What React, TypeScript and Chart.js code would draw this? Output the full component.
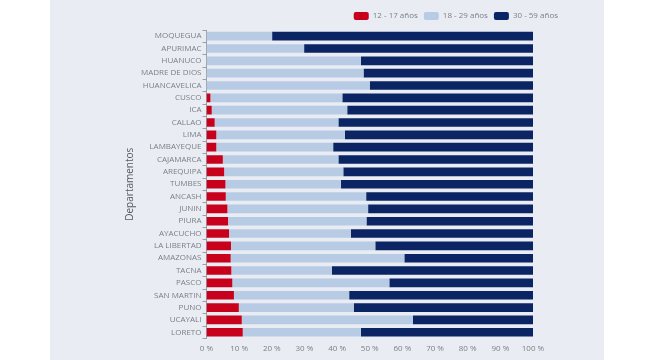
import React, { useEffect, useRef } from "react";
import { Chart, registerables } from "chart.js";

Chart.register(...registerables);

const departamentos = [
  "MOQUEGUA", "APURIMAC", "HUANUCO", "MADRE DE DIOS", "HUANCAVELICA", "CUSCO", "ICA",
  "CALLAO", "LIMA", "LAMBAYEQUE", "CAJAMARCA", "AREQUIPA", "TUMBES", "ANCASH", "JUNIN",
  "PIURA", "AYACUCHO", "LA LIBERTAD", "AMAZONAS", "TACNA", "PASCO", "SAN MARTIN", "PUNO",
  "UCAYALI", "LORETO",
];

const edad12a17 = [
  0, 0, 0, 0, 0, 1.2, 1.6, 2.5, 3.0, 3.0, 5.0, 5.4, 5.8, 5.9, 6.4, 6.6, 6.9, 7.5, 7.4, 7.6,
  7.9, 8.4, 9.9, 10.8, 11.1,
];

const edad18a29 = [
  20.1, 29.9, 47.3, 48.1, 50.0, 40.4, 41.5, 37.9, 39.4, 35.8, 35.4, 36.5, 35.4, 43.0, 43.1,
  42.4, 37.3, 44.2, 53.2, 30.8, 48.1, 35.3, 35.2, 52.4, 36.2,
];

const edad30a59 = [
  79.9, 70.1, 52.7, 51.9, 50.0, 58.4, 56.9, 59.6, 57.6, 61.2, 59.6, 58.1, 58.8, 51.1, 50.5,
  51.0, 55.8, 48.3, 39.4, 61.6, 44.0, 56.3, 54.9, 36.8, 52.7,
];

const serieNombres = ["12 - 17 años", "18 - 29 años", "30 - 59 años"];
const serieColores = ["#c8001c", "#b8cbe4", "#0b2463"];

const FONT = "'Open Sans', 'Noto Sans', sans-serif";
const TEXT = "#7a7f87";

export default function App() {
  const ref = useRef<HTMLCanvasElement | null>(null);

  useEffect(() => {
    if (!ref.current) return;
    const series = [edad12a17, edad18a29, edad30a59];
    const chart = new Chart(ref.current, {
      type: "bar",
      data: {
        labels: departamentos,
        datasets: series.map((d, i) => ({
          label: serieNombres[i],
          data: d,
          backgroundColor: serieColores[i],
          borderWidth: 0,
          barPercentage: 0.875,
          categoryPercentage: 0.8,
          xAxisID: "x",
          yAxisID: "y",
        })),
      },
      options: {
        indexAxis: "y",
        animation: false,
        responsive: false,
        layout: { padding: { top: 6, left: 0, right: 0, bottom: 0 } },
        plugins: {
          tooltip: { enabled: false },
          legend: {
            position: "top",
            align: "end",
            labels: {
              boxWidth: 15,
              boxHeight: 8,
              useBorderRadius: true,
              borderRadius: 2,
              padding: 6,
              color: TEXT,
              font: { family: FONT, size: 8 },
            },
          },
        },
        scales: {
          x: {
            stacked: true,
            min: 0,
            max: 100,
            grid: { display: false, drawTicks: false },
            border: { display: false },
            ticks: {
              stepSize: 10,
              padding: 6,
              color: TEXT,
              font: { family: FONT, size: 8 },
              callback: (v: any) => v + " %",
            },
            title: {
              display: true,
              text: "% de Población",
              color: "#555a62",
              font: { family: FONT, size: 10 },
              padding: { top: 4, bottom: 0 },
            },
          },
          y: {
            stacked: true,
            grid: {
              display: true,
              drawOnChartArea: false,
              drawTicks: true,
              tickLength: 4,
              color: "#9aa0a8",
              offset: true,
            },
            border: { display: true, color: "#9aa0a8" },
            ticks: {
              padding: 1,
              color: TEXT,
              font: { family: FONT, size: 8 },
              autoSkip: false,
            },
            title: {
              display: true,
              text: "Departamentos",
              color: "#555a62",
              font: { family: FONT, size: 10 },
              padding: { top: 0, bottom: 4 },
            },
          },
          yr: {
            position: "right",
            display: true,
            grid: { display: false, drawTicks: false },
            border: { display: false },
            ticks: { display: false },
            afterFit: (scale: any) => {
              scale.width = 31;
            },
          },
        },
      },
    });
    return () => chart.destroy();
  }, []);

  return (
    <div
      style={{
        position: "absolute",
        left: 0,
        top: 0,
        width: 655,
        height: 360,
        background: "#ffffff",
        overflow: "hidden",
      }}
    >
      <div
        style={{
          position: "absolute",
          left: 50,
          top: 0,
          width: 554,
          height: 360,
          background: "#e9edf3",
        }}
      />
      <canvas
        ref={ref}
        width={440}
        height={376}
        style={{ position: "absolute", left: 124, top: 0, width: 440, height: 376 }}
      />
    </div>
  );
}
